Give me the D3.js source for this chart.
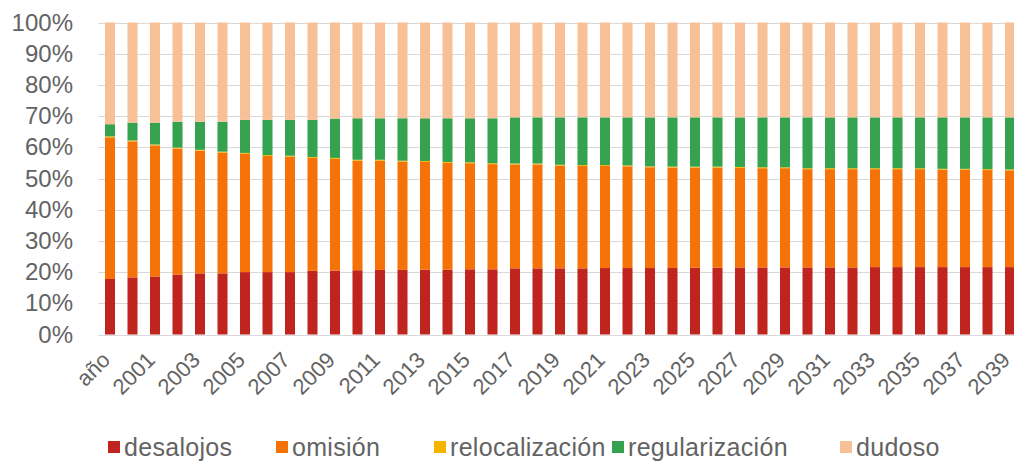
<!DOCTYPE html>
<html>
<head>
<meta charset="utf-8">
<script src="https://cdn.jsdelivr.net/npm/d3@7/dist/d3.min.js"></script>
<style>
  html, body { margin: 0; padding: 0; background: #fff; }
  svg { display: block; font-family: "Liberation Sans", Arial, sans-serif; }
</style>
</head>
<body>
<svg id="chart" width="1014" height="461"></svg>
<script>
// ---- data ----
const categories = ["año",
  "2000","2001","2002","2003","2004","2005","2006","2007","2008","2009",
  "2010","2011","2012","2013","2014","2015","2016","2017","2018","2019",
  "2020","2021","2022","2023","2024","2025","2026","2027","2028","2029",
  "2030","2031","2032","2033","2034","2035","2036","2037","2038","2039"];

const seriesNames = ["desalojos", "omisión", "relocalización", "regularización", "dudoso"];

const desalojos = [17.8,18.3,18.6,19.2,19.6,19.6,20.0,20.0,20.0,20.4,
  20.5,20.6,20.7,20.7,20.8,20.8,20.9,20.9,21.2,21.2,
  21.2,21.2,21.3,21.3,21.3,21.3,21.4,21.4,21.5,21.5,
  21.5,21.5,21.5,21.5,21.6,21.6,21.6,21.6,21.6,21.6,21.6];
const omision = [45.4,43.6,42.0,40.4,39.3,38.7,37.9,37.2,37.0,36.2,
  35.8,35.1,35.0,34.7,34.5,34.2,34.0,33.7,33.3,33.3,
  32.9,32.8,32.7,32.6,32.3,32.2,32.1,32.1,31.9,31.8,
  31.8,31.5,31.5,31.5,31.4,31.4,31.4,31.2,31.2,31.1,31.0];
const relocalizacion = [0.3,0.3,0.3,0.3,0.3,0.3,0.3,0.3,0.3,0.3,
  0.3,0.3,0.3,0.3,0.3,0.3,0.3,0.3,0.3,0.3,
  0.3,0.3,0.3,0.3,0.3,0.3,0.3,0.3,0.3,0.3,
  0.3,0.3,0.3,0.3,0.3,0.3,0.3,0.3,0.3,0.3,0.3];
const regularizacion = [3.9,5.7,7.0,8.3,9.0,9.6,10.6,11.3,11.5,11.9,
  12.6,13.3,13.3,13.6,13.7,14.0,14.1,14.4,14.8,14.8,
  15.2,15.3,15.3,15.4,15.7,15.8,15.8,15.8,15.9,16.0,
  16.0,16.3,16.3,16.3,16.3,16.3,16.3,16.5,16.5,16.6,16.7];
const dudoso = [32.6,32.1,32.1,31.8,31.8,31.8,31.2,31.2,31.2,31.2,
  30.8,30.7,30.7,30.7,30.7,30.7,30.7,30.7,30.4,30.4,
  30.4,30.4,30.4,30.4,30.4,30.4,30.4,30.4,30.4,30.4,
  30.4,30.4,30.4,30.4,30.4,30.4,30.4,30.4,30.4,30.4,30.4];

const yTicks = [0, 0.1, 0.2, 0.3, 0.4, 0.5, 0.6, 0.7, 0.8, 0.9, 1.0];

// ---- styling ----
const colors = ["#c0241e", "#f57208", "#f4b400", "#34a24f", "#f8c096"];
const textColor = "#636363";

const svg = d3.select("#chart");

const rows = categories.map((c, i) => ({
  cat: c,
  "desalojos": desalojos[i],
  "omisión": omision[i],
  "relocalización": relocalizacion[i],
  "regularización": regularizacion[i],
  "dudoso": dudoso[i]
}));

const stack = d3.stack().keys(seriesNames).offset(d3.stackOffsetExpand);
const stacked = stack(rows);

const x = d3.scaleBand().domain(categories)
  .range([98.75, 1021.25]).paddingInner(0.555).paddingOuter(0.2775);
const y = d3.scaleLinear().domain([0, 1]).range([334.5, 22.5]);

// gridlines
svg.append("g").selectAll("line").data(yTicks).join("line")
  .attr("x1", 98).attr("x2", 1014)
  .attr("y1", d => Math.round(y(d)) + 0.5).attr("y2", d => Math.round(y(d)) + 0.5)
  .attr("stroke", "#d9d9d9").attr("stroke-width", 1);

// bars
svg.append("g").selectAll("g").data(stacked).join("g")
  .attr("fill", (d, i) => colors[i])
  .selectAll("rect").data(d => d).join("rect")
  .attr("x", d => x(d.data.cat))
  .attr("width", x.bandwidth())
  .attr("y", d => y(d[1]))
  .attr("height", d => Math.max(0, y(d[0]) - y(d[1])));

// y axis labels
const yAxis = d3.axisLeft(y).tickValues(yTicks).tickFormat(d3.format(".0%")).tickSize(0).tickPadding(0);
const gy = svg.append("g").attr("transform", "translate(73,0)").call(yAxis);
gy.select(".domain").remove();
gy.selectAll("text").attr("fill", textColor).attr("font-size", 24)
  .attr("font-family", "'Liberation Sans', Arial, sans-serif");

// x axis labels (every other category)
const xAxis = d3.axisBottom(x)
  .tickValues(categories.filter((c, i) => i % 2 === 0))
  .tickSize(0).tickPadding(0);
const gx = svg.append("g").attr("transform", "translate(0,356)").call(xAxis);
gx.select(".domain").remove();
gx.selectAll("text")
  .attr("fill", textColor).attr("font-size", 22)
  .attr("font-family", "'Liberation Sans', Arial, sans-serif")
  .attr("text-anchor", "end")
  .attr("x", 0).attr("y", 0)
  .attr("dy", "0.35em")
  .attr("transform", "translate(-4,0) rotate(-45)");

// legend
const legendX = [108, 276, 434, 612, 840];
const legend = svg.append("g").attr("transform", "translate(0,447)");
const items = legend.selectAll("g").data(seriesNames).join("g")
  .attr("transform", (d, i) => `translate(${legendX[i]},0)`);
items.append("rect").attr("x", 0).attr("y", -6).attr("width", 12).attr("height", 12)
  .attr("fill", (d, i) => colors[i]);
items.append("text").attr("x", 16).attr("dy", "0.35em")
  .attr("font-size", 25).attr("letter-spacing", 0.3).attr("fill", textColor)
  .text(d => d);
</script>
</body>
</html>
